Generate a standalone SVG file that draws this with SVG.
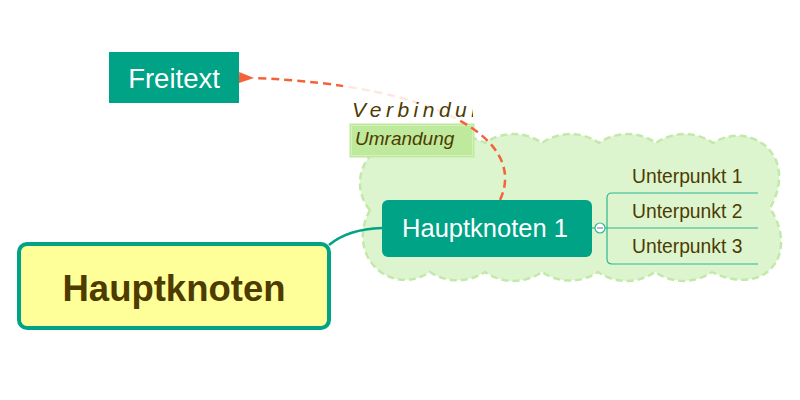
<svg xmlns="http://www.w3.org/2000/svg" width="800" height="400" viewBox="0 0 800 400">
<defs>
<style>
.t{font-family:"Liberation Sans",Arial,sans-serif;}
.sub{font-size:19.3px;fill:#4d3b00;}
.subline{fill:none;stroke:#2fb592;stroke-width:1.2;}
</style>
<marker id="arr" viewBox="0 0 15 12" refX="1" refY="6" markerWidth="15" markerHeight="12" markerUnits="userSpaceOnUse" orient="auto-start-reverse">
<path d="M0,6 L15,0.5 L15,11.5 Z" fill="#f4623a"/>
</marker>
<clipPath id="lblclip"><rect x="343" y="84" width="130" height="36"/></clipPath>
</defs>
<rect width="800" height="400" fill="#ffffff"/>

<g id="cloud">
<path d="M370,210 C352,190 356,150 400,138 C430,130 470,134 485,143 A50,50 0 0 1 542,143 A50,50 0 0 1 599,143 A50,50 0 0 1 656,143 A50,50 0 0 1 713,143 C750,120 800,155 770,208 C800,255 765,298 712,272 A50,50 0 0 1 655,272 A50,50 0 0 1 598,272 A50,50 0 0 1 542,272 A50,50 0 0 1 485,272 A50,50 0 0 1 430,272 C390,298 345,255 370,210 Z" fill="#dcf5cf" stroke="#c3e9aa" stroke-width="2.5" stroke-dasharray="7 4"/>
</g>

<g id="umrandung-label">
<rect x="349.5" y="123.5" width="125" height="34" fill="#bfe99c"/>
<rect x="351.5" y="125.5" width="121" height="30" fill="none" stroke="#d3f1bb" stroke-width="1"/>
<text class="t" x="355" y="145" font-size="19" font-style="italic" fill="#4d3b00">Umrandung</text>
</g>

<g id="connectors">
<path d="M329,245 Q348,229 382,228" fill="none" stroke="#00a386" stroke-width="2.5"/>
<line x1="592" y1="228" x2="596" y2="228" stroke="#2fb592" stroke-width="1.2"/>
<path class="subline" d="M758,193 H612 Q607,193 607,198 V259 Q607,264 612,264 H758"/>
<line class="subline" x1="604" y1="228" x2="758" y2="228"/>
<path d="M500,200 C528,140 440,85 253,78" fill="none" stroke="#f4623a" stroke-width="2.5" stroke-dasharray="8 5" marker-end="url(#arr)"/>
</g>

<g id="verbindung-label">
<rect x="343" y="84" width="130" height="36" fill="#ffffff" fill-opacity="0.85"/>
<text class="t" x="352" y="117" font-size="21" font-style="italic" letter-spacing="4.5" fill="#4d3b00" clip-path="url(#lblclip)">Verbindung</text>
</g>

<g id="freitext">
<rect x="109" y="52" width="130" height="51" fill="#00a386"/>
<text class="t" x="174" y="88" font-size="27.5" fill="#ffffff" text-anchor="middle">Freitext</text>
</g>

<g id="hauptknoten">
<rect x="19" y="244" width="310" height="84" rx="8" fill="#ffff99" stroke="#00a386" stroke-width="4"/>
<text class="t" x="174" y="301" font-size="36.5" font-weight="bold" fill="#4d3b00" text-anchor="middle">Hauptknoten</text>
</g>

<g id="hauptknoten1">
<rect x="382" y="200" width="210" height="57" rx="6" fill="#00a386"/>
<text class="t" x="485" y="237" font-size="25.5" fill="#ffffff" text-anchor="middle">Hauptknoten 1</text>
</g>

<g id="collapse">
<circle cx="600" cy="228" r="5" fill="#ffffff" stroke="#2fb592" stroke-width="1.2"/>
<line x1="597" y1="228" x2="603" y2="228" stroke="#8fa0c8" stroke-width="1.5"/>
</g>

<g id="unterpunkt1"><text class="t sub" x="632" y="183">Unterpunkt 1</text></g>
<g id="unterpunkt2"><text class="t sub" x="632" y="218">Unterpunkt 2</text></g>
<g id="unterpunkt3"><text class="t sub" x="632" y="253">Unterpunkt 3</text></g>
</svg>
